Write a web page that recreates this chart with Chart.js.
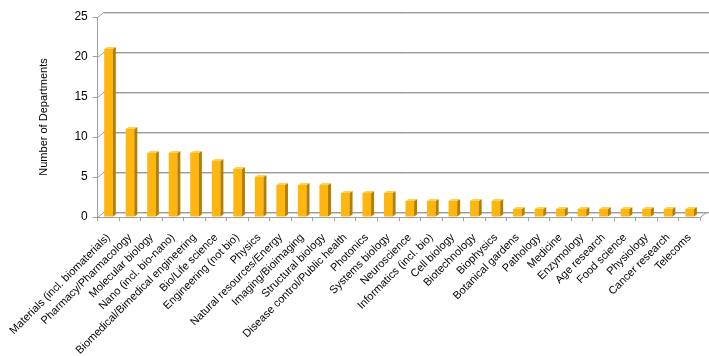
<!DOCTYPE html>
<html>
<head>
<meta charset="utf-8">
<script src="https://cdn.jsdelivr.net/npm/chart.js@4"></script>
<style>
html,body{margin:0;padding:0;background:#fff;}
#wrap{width:709px;height:356px;position:relative;}
</style>
</head>
<body>
<div id="wrap"><canvas id="c" width="709" height="356"></canvas></div>
<script>
const categories = [
  "Materials (incl. biomaterials)", "Pharmacy/Pharmacology", "Molecular biology",
  "Nano (incl. bio-nano)", "Biomedical/Bimedical engineering", "Bio/Life science",
  "Engineering (not bio)", "Physics", "Natural resources/Energy", "Imaging/Bioimaging",
  "Structural biology", "Disease control/Public health", "Photonics", "Systems biology",
  "Neuroscience", "Informatics (incl. bio)", "Cell biology", "Biotechnology", "Biophysics",
  "Botanical gardens", "Pathology", "Medicine", "Enzymology", "Age research",
  "Food science", "Physiology", "Cancer research", "Telecoms"
];
const departments = [21, 11, 8, 8, 8, 7, 6, 5, 4, 4, 4, 3, 3, 3, 2, 2, 2, 2, 2, 1, 1, 1, 1, 1, 1, 1, 1, 1];
const yTicks = [0, 5, 10, 15, 20, 25];

const DX = 6, DY = 5;

const backWall = {
  id: 'backWall',
  beforeDatasetsDraw(chart) {
    const ctx = chart.ctx, y = chart.scales.y, a = chart.chartArea;
    ctx.save();
    yTicks.forEach(v => {
      const py = Math.round(y.getPixelForValue(v)) + 0.5;
      ctx.strokeStyle = '#d4d4d4';
      ctx.lineWidth = 1;
      ctx.beginPath();
      ctx.moveTo(a.left + DX, py - DY + 1);
      ctx.lineTo(chart.width, py - DY + 1);
      ctx.stroke();
      ctx.strokeStyle = '#9c9c9c';
      ctx.beginPath();
      ctx.moveTo(a.left, py);
      ctx.lineTo(a.left + DX, py - DY);
      ctx.lineTo(chart.width, py - DY);
      ctx.stroke();
    });
    const by = Math.round(a.bottom) + 0.5;
    ctx.strokeStyle = '#9c9c9c';
    ctx.beginPath();
    ctx.moveTo(a.right, by);
    ctx.lineTo(a.right + DX, by - DY);
    ctx.stroke();
    ctx.restore();
  }
};

const bars3d = {
  id: 'bars3d',
  afterDatasetsDraw(chart) {
    const ctx = chart.ctx;
    const meta = chart.getDatasetMeta(0);
    const d = 3, dd = 2;
    ctx.save();
    meta.data.forEach(bar => {
      const p = bar.getProps(['x', 'y', 'base', 'width'], true);
      const l = p.x - p.width / 2, r = p.x + p.width / 2;
      ctx.fillStyle = '#b47e00';
      ctx.beginPath();
      ctx.moveTo(r, p.y);
      ctx.lineTo(r + d, p.y - dd);
      ctx.lineTo(r + d, p.base - dd);
      ctx.lineTo(r, p.base);
      ctx.closePath();
      ctx.fill();
      ctx.fillStyle = '#ffd24a';
      ctx.beginPath();
      ctx.moveTo(l, p.y);
      ctx.lineTo(l + d, p.y - dd);
      ctx.lineTo(r + d, p.y - dd);
      ctx.lineTo(r, p.y);
      ctx.closePath();
      ctx.fill();
    });
    ctx.restore();
  }
};

new Chart(document.getElementById('c'), {
  type: 'bar',
  data: {
    labels: categories,
    datasets: [{
      data: departments,
      backgroundColor: '#ffb70f',
      borderWidth: 0,
      categoryPercentage: 1,
      barPercentage: 0.4
    }]
  },
  options: {
    responsive: false,
    animation: false,
    devicePixelRatio: 1,
    layout: { padding: { left: 36, right: 6, top: 17, bottom: 0 } },
    plugins: { legend: { display: false }, tooltip: { enabled: false } },
    scales: {
      x: {
        grid: { drawOnChartArea: false, tickLength: 4, color: '#a0a0a0', offset: true },
        border: { color: '#a0a0a0' },
        ticks: {
          autoSkip: false, maxRotation: 45, minRotation: 45, padding: 10,
          color: '#000', font: { family: 'Liberation Sans', size: 11 }
        },
        afterFit(s) { s.height = 139; }
      },
      y: {
        min: 0, max: 25,
        grid: { drawOnChartArea: false, tickLength: 5, color: '#a0a0a0' },
        border: { color: '#a0a0a0' },
        ticks: {
          stepSize: 5, padding: 5, color: '#000',
          font: { family: 'Liberation Sans', size: 12 }
        },
        title: {
          display: true, text: 'Number of Departments', color: '#000',
          font: { family: 'Liberation Sans', size: 11 }, padding: 0
        },
        afterFit(s) { s.width = 60; }
      }
    }
  },
  plugins: [backWall, bars3d]
});
</script>
</body>
</html>
